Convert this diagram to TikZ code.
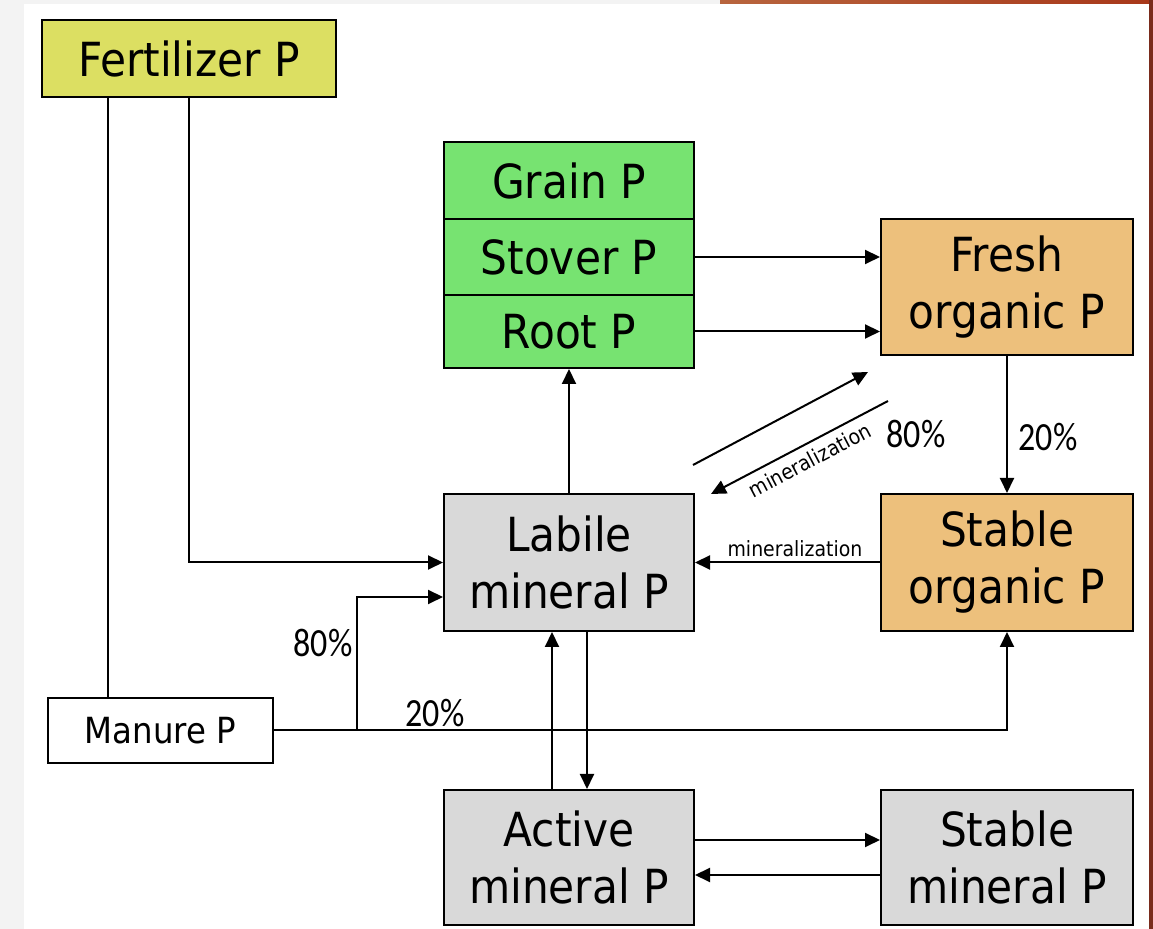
\documentclass[tikz,border=0pt]{standalone}
\usepackage{fontspec}
\setmainfont{DejaVu Sans}[FakeStretch=0.9]
\newfontfamily\pctfont{Carlito}[FakeStretch=0.85]
\usepackage{xcolor}
\usepackage{tikz}
\usetikzlibrary{arrows.meta,positioning,calc}
\definecolor{fertyellow}{HTML}{DCDF62}
\definecolor{plantgreen}{HTML}{77E371}
\definecolor{orgorange}{HTML}{EDC07C}
\definecolor{minegray}{HTML}{D9D9D9}
\definecolor{slidegray}{HTML}{F3F3F3}
\definecolor{slideorange}{HTML}{B8653E}
\definecolor{slidered}{HTML}{A8381A}
\definecolor{slidebrown}{HTML}{7A2C1C}
\tikzset{
  pool/.style={draw=black,line width=1pt,inner sep=0pt,align=center,font={\fontsize{23.5}{28.5}\selectfont}},
  poolarrow/.style={-{Triangle[length=7.5pt,width=7pt]},line width=1pt},
  poolline/.style={line width=1pt},
  pctlabel/.style={inner sep=0pt,font={\pctfont\fontsize{20}{24}\selectfont}},
  minlabel/.style={inner sep=0pt,font={\fontsize{10.5}{12}\selectfont}},
}
\begin{document}
\begin{tikzpicture}[x=0.5pt,y=-0.5pt]
    \useasboundingbox (0,0) rectangle (1153,929);
    % slide edges
    \fill[slidegray] (0,0) rectangle (1153,929);
    \fill[white] (24,4) rectangle (1149,929);
    \shade[left color=slideorange,right color=slidered] (720,0) rectangle (1149,4);
    \fill[slidebrown] (1149,0) rectangle (1153,929);

    % pools
    \node[pool,fill=fertyellow,minimum width=147pt,minimum height=38.5pt] (fert) at (189,58.5) {Fertilizer P};
    \node[pool,fill=plantgreen,minimum width=125pt,minimum height=38.5pt] (grain) at (569,180.5) {Grain P};
    \node[pool,fill=plantgreen,minimum width=125pt,minimum height=38pt] (stover) at (569,257) {Stover P};
    \node[pool,fill=plantgreen,minimum width=125pt,minimum height=36.5pt] (root) at (569,331.5) {Root P};
    \node[pool,fill=orgorange,minimum width=126pt,minimum height=68pt] (fresh) at (1007,287) {Fresh\\organic P};
    \node[pool,fill=orgorange,minimum width=126pt,minimum height=68.5pt] (sorg) at (1007,562.5) {Stable\\organic P};
    \node[pool,fill=minegray,minimum width=125pt,minimum height=68.5pt] (labile) at (569,562.5) {Labile\\mineral P};
    \node[pool,fill=white,minimum width=112.5pt,minimum height=32.5pt,font={\fontsize{18}{22}\selectfont}] (manure) at (160.5,730.5) {Manure P};
    \node[pool,fill=minegray,minimum width=125pt,minimum height=67.5pt] (active) at (569,857.5) {Active\\mineral P};
    \node[pool,fill=minegray,minimum width=126pt,minimum height=67.5pt] (smin) at (1007,857.5) {Stable\\mineral P};

    % fertilizer and manure inputs
    \coordinate (f1) at ([xshift=-40.5pt]fert.south);
    \draw[poolline] (f1) -- (f1 |- manure.north);
    \draw[poolarrow] (fert.south) |- (labile.west);
    \coordinate (br) at (357,730.5);
    \draw[poolarrow] (manure.east) -| (sorg.south);
    \draw[poolarrow] (br) |- ([yshift=-17.25pt]labile.west);
    \node[pctlabel] (p80a) at (323,643) {80\%};
    \node[pctlabel] (p20a) at (435,713) {20\%};

    % plant uptake and residues
    \draw[poolarrow] (labile.north) -- (root.south);
    \draw[poolarrow] (stover.east) -- (stover.east -| fresh.west);
    \draw[poolarrow] (root.east) -- (root.east -| fresh.west);

    % organic pools
    \coordinate (d1) at (693,465);
    \coordinate (d2) at (868,372);
    \coordinate (d3) at (888,401);
    \coordinate (d4) at (711,494);
    \draw[poolarrow] (d1) -- (d2);
    \draw[poolarrow] (d3) -- (d4);
    \node[minlabel,rotate=27.7] (minb) at (810,460) {mineralization};
    \node[pctlabel] (p80b) at (916,434) {80\%};
    \draw[poolarrow] (fresh.south) -- (sorg.north);
    \node[pctlabel] (p20b) at (1048,437) {20\%};
    \draw[poolarrow] (sorg.west) -- (labile.east);
    \node[minlabel] (mina) at (795,549) {mineralization};

    % mineral pools
    \draw[poolarrow] ([xshift=9pt]labile.south) -- ([xshift=9pt]active.north);
    \draw[poolarrow] ([xshift=-8.5pt]active.north) -- ([xshift=-8.5pt]labile.south);
    \draw[poolarrow] ([yshift=8.75pt]active.east) -- ([yshift=8.75pt]smin.west);
    \draw[poolarrow] ([yshift=-8.75pt]smin.west) -- ([yshift=-8.75pt]active.east);
  \end{tikzpicture}
\end{document}
